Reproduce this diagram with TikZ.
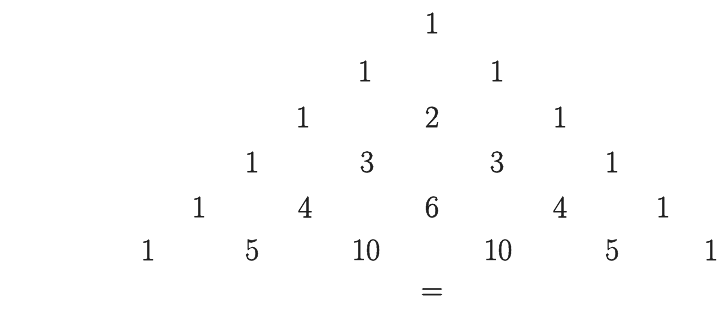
\documentclass[tikz,border=0pt]{standalone}
\usepackage{fontspec}
\newfontfamily\numfont{Latin Modern Roman}[FakeBold=1.6]
\begin{document}
\begin{tikzpicture}[x=1pt,y=-1pt,
  num/.style={inner sep=0pt,font=\numfont\fontsize{31}{34}\selectfont,text=black!88}]
\useasboundingbox (0,0) rectangle (721,336);
\node[num] (r0a) at (432,23) {1};
\node[num] (r1a) at (365,71) {1};
\node[num] (r1b) at (497,71) {1};
\node[num] (r2a) at (303,117) {1};
\node[num] (r2b) at (432,117) {2};
\node[num] (r2c) at (560,117) {1};
\node[num] (r3a) at (252,162) {1};
\node[num] (r3b) at (367,162) {3};
\node[num] (r3c) at (497,162) {3};
\node[num] (r3d) at (612,162) {1};
\node[num] (r4a) at (199,207) {1};
\node[num] (r4b) at (305,207) {4};
\node[num] (r4c) at (432,207) {6};
\node[num] (r4d) at (560,207) {4};
\node[num] (r4e) at (663,207) {1};
\node[num] (r5a) at (148,250) {1};
\node[num] (r5b) at (252,250) {5};
\node[num] (r5c) at (366,250) {10};
\node[num] (r5d) at (498,250) {10};
\node[num] (r5e) at (612,250) {5};
\node[num] (r5f) at (711,250) {1};
\node[num] (eq) at (432,294) {=};
\end{tikzpicture}
\end{document}
